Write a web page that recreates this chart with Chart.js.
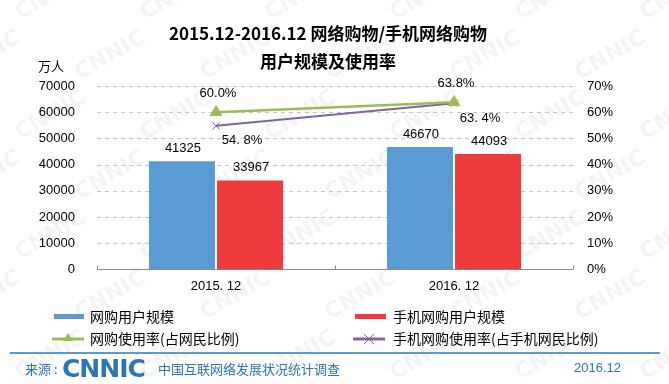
<!DOCTYPE html>
<html><head><meta charset="utf-8">
<script src="https://cdn.jsdelivr.net/npm/chart.js@4.4.1/dist/chart.umd.min.js"></script>
<style>
html,body{margin:0;padding:0;background:#fff;}
#wrap{position:relative;width:669px;height:384px;overflow:hidden;font-family:"Liberation Sans","Noto Sans CJK SC",sans-serif;}
canvas{position:absolute;left:0;top:0;}
.t{position:absolute;white-space:nowrap;}
.cj{font-family:'Noto Sans CJK SC',sans-serif;}
</style></head>
<body>
<div id="wrap">
<canvas id="c" width="669" height="384"></canvas>
<div class="t cj" style="left:0;width:656px;top:19px;text-align:center;font-size:17px;font-weight:bold;color:#000;line-height:28px;">2015.12-2016.12 网络购物/手机网络购物<br>用户规模及使用率</div>
<div class="t cj" style="left:38px;top:56px;font-size:13px;color:#000;">万人</div>
<div class="t" style="left:54px;top:314px;width:30px;height:5px;background:#5b9bd5;"></div>
<div class="t cj" style="left:90px;top:306px;font-size:14px;">网购用户规模</div>
<div class="t" style="left:355px;top:314px;width:31px;height:5px;background:#ee3b3b;"></div>
<div class="t cj" style="left:393px;top:306px;font-size:14px;">手机网购用户规模</div>
<svg class="t" style="left:50px;top:330px;" width="36" height="16"><line x1="2" y1="9" x2="34" y2="9" stroke="#9bbb59" stroke-width="3"/><polygon points="18,3 23,11 13,11" fill="#9bbb59"/></svg>
<div class="t cj" style="left:90px;top:328px;font-size:14px;">网购使用率(占网民比例)</div>
<svg class="t" style="left:351px;top:330px;" width="36" height="16"><line x1="2" y1="9" x2="34" y2="9" stroke="#8064a2" stroke-width="3"/><line x1="13" y1="4" x2="23" y2="14" stroke="#8064a2" stroke-width="1"/><line x1="23" y1="4" x2="13" y2="14" stroke="#8064a2" stroke-width="1"/></svg>
<div class="t cj" style="left:393px;top:328px;font-size:14px;">手机网购使用率(占手机网民比例)</div>
<div class="t" style="left:10px;top:352px;width:650px;height:2px;background:#5b9bd5;"></div>
<div class="t cj" style="left:25px;top:359px;font-size:13px;color:#2e75b6;">来源 :</div>
<div class="t" style="left:62px;top:354px;font-size:25px;font-weight:900;color:#2e75b6;letter-spacing:-1px;font-family:'DejaVu Sans',sans-serif;">CNNIC</div>
<div class="t cj" style="left:158px;top:359px;font-size:13px;color:#2e75b6;">中国互联网络发展状况统计调查</div>
<div class="t" style="left:574px;top:360px;font-size:13px;color:#2e75b6;">2016.12</div>
</div>
<script>
const categories = ['2015. 12', '2016. 12'];
const netShoppers = [41325, 46670];
const mobileShoppers = [33967, 44093];
const netRate = [60.0, 63.8];
const mobileRate = [54.8, 63.4];
const netRateLabels = ['60.0%', '63.8%'];
const mobileRateLabels = ['54. 8%', '63. 4%'];
const leftTicks = [0, 10000, 20000, 30000, 40000, 50000, 60000, 70000];

const FONT = "'Liberation Sans','Noto Sans CJK SC',sans-serif";

const watermark = {
  id: 'wm',
  beforeDraw(chart) {
    const ctx = chart.ctx;
    ctx.save();
    ctx.fillStyle = 'rgba(0,0,0,0.045)';
    ctx.font = "bold 22px 'DejaVu Sans', sans-serif";
    for (let r = -2; r < 8; r++) {
      for (let c = -2; c < 9; c++) {
        const x = c * 125 + (r % 2) * 60 + 20;
        const y = r * 60 + 20;
        ctx.save();
        ctx.translate(x, y);
        ctx.rotate(-Math.PI / 6);
        ctx.fillText('CNNIC', 0, 0);
        ctx.restore();
      }
    }
    ctx.restore();
  }
};

const gridPlugin = {
  id: 'dgrid',
  beforeDatasetsDraw(chart) {
    const ctx = chart.ctx, y = chart.scales.y, x = chart.scales.x, a = chart.chartArea;
    ctx.save();
    ctx.strokeStyle = '#c4c4c4';
    ctx.lineWidth = 1;
    ctx.setLineDash([4, 4]);
    leftTicks.forEach(v => {
      if (v === 0) return;
      const py = Math.round(y.getPixelForValue(v)) + 0.5;
      ctx.beginPath();
      ctx.moveTo(a.left, py);
      ctx.lineTo(a.right, py);
      ctx.stroke();
    });
    ctx.setLineDash([]);
    ctx.strokeStyle = '#8c8c8c';
    const by = Math.round(y.getPixelForValue(0)) + 0.5;
    ctx.beginPath();
    ctx.moveTo(a.left, by);
    ctx.lineTo(a.right, by);
    const mid = (x.getPixelForValue(0) + x.getPixelForValue(1)) / 2;
    [a.left, mid, a.right].forEach(px => {
      const rx = Math.round(px) + 0.5;
      ctx.moveTo(rx, by);
      ctx.lineTo(rx, by - 4);
    });
    ctx.stroke();
    ctx.restore();
  }
};

const labels = {
  id: 'lbl',
  afterDatasetsDraw(chart) {
    const ctx = chart.ctx;
    ctx.save();
    ctx.font = '13px ' + FONT;
    ctx.fillStyle = '#000';
    ctx.textAlign = 'center';
    ctx.textBaseline = 'bottom';
    [0, 1].forEach(di => {
      const meta = chart.getDatasetMeta(di);
      const vals = di === 0 ? netShoppers : mobileShoppers;
      meta.data.forEach((el, i) => {
        ctx.fillText(String(vals[i]), el.x + 1, el.y - 6);
      });
    });
    const g = chart.getDatasetMeta(2).data;
    g.forEach((el, i) => {
      ctx.fillText(netRateLabels[i], el.x + 2, el.y - 12);
    });
    const p = chart.getDatasetMeta(3).data;
    ctx.textBaseline = 'middle';
    p.forEach((el, i) => {
      ctx.fillText(mobileRateLabels[i], el.x + 26, el.y + 15);
    });
    ctx.restore();
  }
};

new Chart(document.getElementById('c'), {
  data: {
    labels: categories,
    datasets: [
      { type: 'bar', label: '网购用户规模', data: netShoppers, backgroundColor: '#5b9bd5', yAxisID: 'y', categoryPercentage: 0.572, barPercentage: 0.97, order: 3 },
      { type: 'bar', label: '手机网购用户规模', data: mobileShoppers, backgroundColor: '#ee3b3b', yAxisID: 'y', categoryPercentage: 0.572, barPercentage: 0.97, order: 3 },
      { type: 'line', label: '网购使用率(占网民比例)', data: netRate, borderColor: '#9bbb59', backgroundColor: '#9bbb59', borderWidth: 2.5, pointStyle: 'triangle', pointRadius: 5, yAxisID: 'y1', order: 1 },
      { type: 'line', label: '手机网购使用率(占手机网民比例)', data: mobileRate, borderColor: '#8064a2', backgroundColor: '#8064a2', borderWidth: 2, pointStyle: 'crossRot', pointRadius: 5, pointBorderWidth: 1, yAxisID: 'y1', order: 2 }
    ]
  },
  options: {
    responsive: false,
    animation: false,
    layout: { padding: { left: 30, right: 0, top: 86, bottom: 89 } },
    plugins: { legend: { display: false }, tooltip: { enabled: false } },
    scales: {
      x: {
        grid: { display: false },
        border: { display: false },
        ticks: { color: '#000', font: { size: 13, family: FONT }, padding: 1 }
      },
      y: {
        position: 'left',
        min: 0, max: 70000,
        afterBuildTicks(ax) { ax.ticks = leftTicks.map(v => ({ value: v })); },
        afterFit(ax) { ax.width = 67; },
        grid: { display: false },
        border: { display: false },
        ticks: { color: '#000', font: { size: 13, family: FONT }, padding: 14, callback: v => String(v) }
      },
      y1: {
        position: 'right',
        min: 0, max: 70,
        afterFit(ax) { ax.width = 96; },
        grid: { display: false },
        border: { display: false },
        ticks: { stepSize: 10, color: '#000', font: { size: 13, family: FONT }, padding: 6, callback: v => v + '%' }
      }
    }
  },
  plugins: [watermark, gridPlugin, labels]
});
</script>
</body></html>
